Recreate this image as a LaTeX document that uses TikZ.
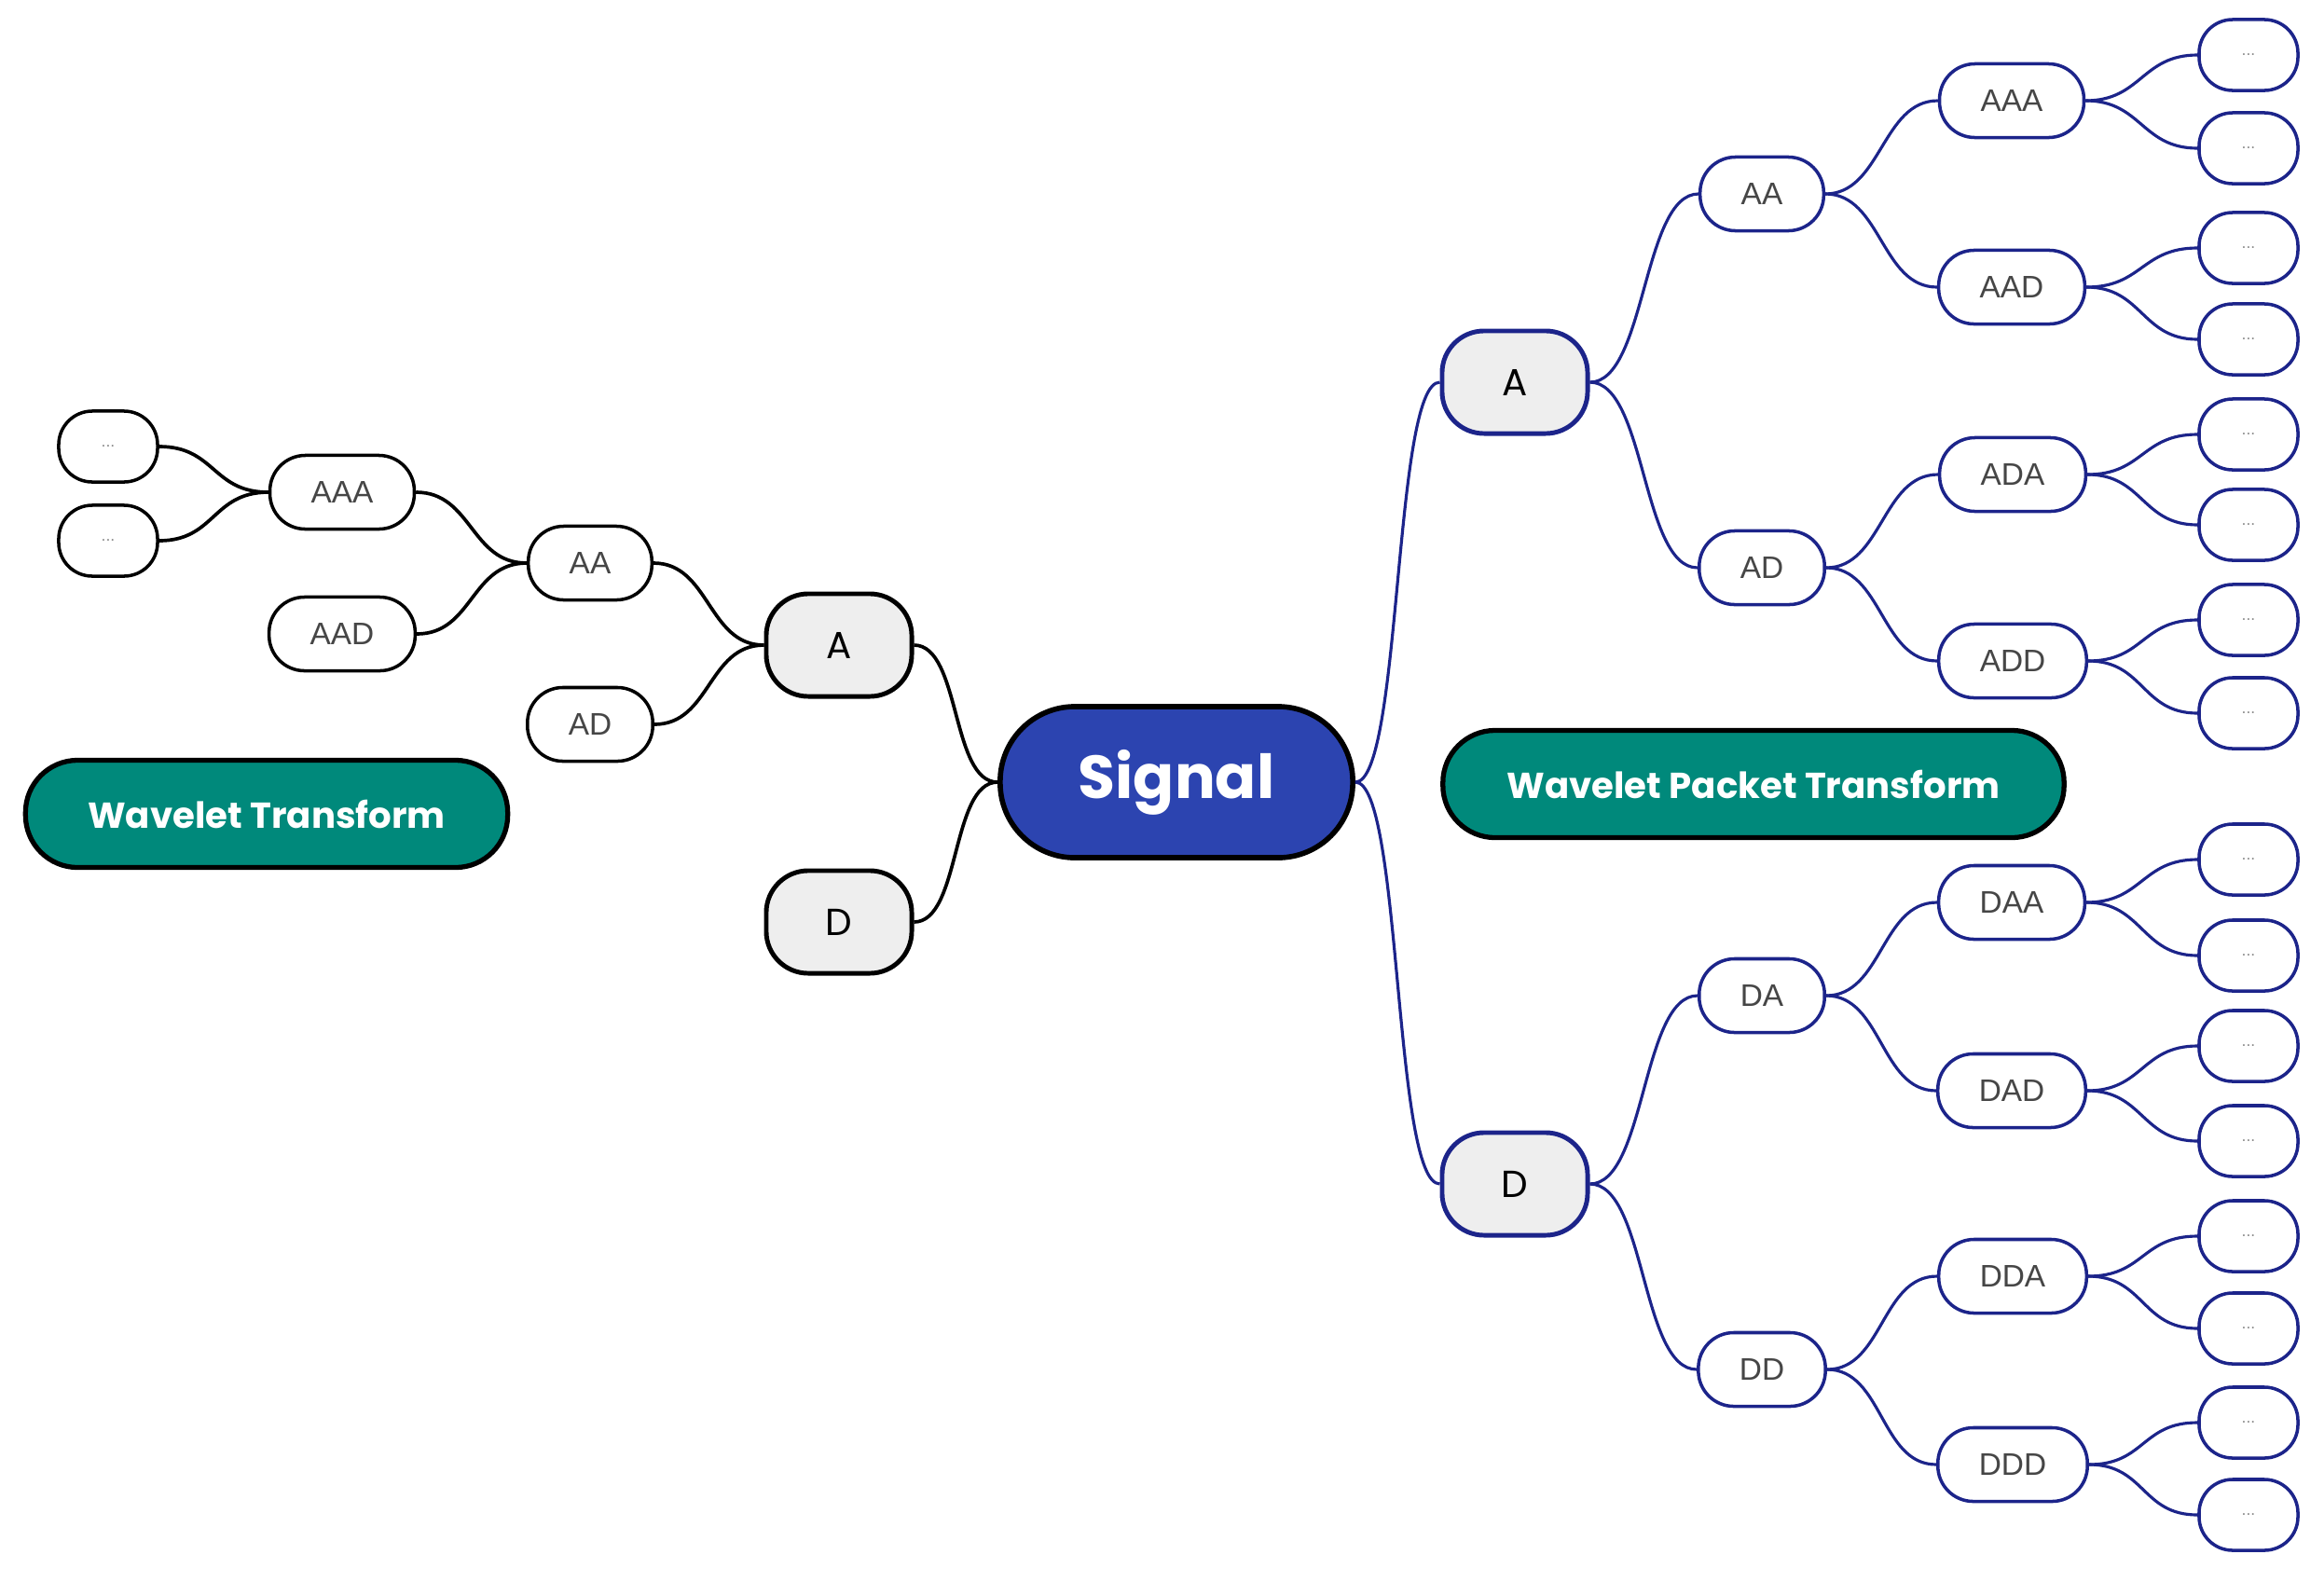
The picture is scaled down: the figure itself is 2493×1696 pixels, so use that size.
\documentclass[tikz,border=0pt]{standalone}
\usepackage{fontspec}
\setmainfont{Liberation Sans}
\newfontfamily\headfont{Poppins}
\usetikzlibrary{positioning}
\definecolor{navy}{RGB}{28,36,138}
\definecolor{signalblue}{RGB}{44,68,176}
\definecolor{wtgreen}{RGB}{0,137,123}
\definecolor{nodegray}{RGB}{238,238,238}
\definecolor{labelgray}{RGB}{70,70,70}
\definecolor{dotgray}{RGB}{140,140,140}

\tikzset{
  root/.style={draw=black, line width=1.6pt, fill=signalblue, text=white,
    rounded corners=0.8cm, minimum width=3.78cm, minimum height=1.62cm,
    font=\headfont\bfseries\fontsize{18.5}{20}\selectfont},
  title/.style={draw=black, line width=1.5pt, fill=wtgreen, text=white,
    rounded corners=0.56cm, minimum height=1.15cm,
    font=\headfont\bfseries\fontsize{11}{13}\selectfont},
  level1/.style={fill=nodegray, line width=1.4pt, rounded corners=0.45cm,
    minimum width=1.56cm, minimum height=1.1cm,
    font=\headfont\fontsize{11.5}{13}\selectfont},
  level2/.style={fill=white, line width=1pt, rounded corners=0.38cm,
    inner xsep=0.44cm, minimum height=0.79cm, text=labelgray,
    font=\fontsize{9.5}{11}\selectfont},
  leaf/.style={fill=white, line width=1pt, rounded corners=0.36cm,
    minimum width=1.06cm, minimum height=0.76cm, text=dotgray,
    font=\fontsize{5}{6}\selectfont}
}

\begin{document}
\begin{tikzpicture}[x=0.01cm, y=-0.01cm]
   \useasboundingbox (0,0) rectangle (2493,1696);
   % root and titles
   \node[root] (sig) at (1262,839) {Signal};
   \node[title, minimum width=5.17cm] (wt) at (286,873) {Wavelet Transform};
   \node[title, minimum width=6.66cm] (wpt) at (1881,841) {Wavelet Packet Transform};
   % wavelet transform (left)
   \begin{scope}[every node/.append style={draw=black}]
    \node[level1] (wa) at (900,692) {A};
    \node[level1] (wd) at (900,989) {D};
    \node[level2] (waa) at (633,604) {AA};
    \node[level2] (wad) at (633,777) {AD};
    \node[level2] (waaa) at (367,528) {AAA};
    \node[level2] (waad) at (367,680) {AAD};
    \node[leaf] (wx1) at (116,479) {...};
    \node[leaf] (wx2) at (116,580) {...};
   \end{scope}
   \begin{scope}[every edge/.style={draw=black, line width=1.05pt, out=180, in=0, distance=0.6cm}]
    \draw (sig.west) edge [distance=0.5cm] (wa.east);
    \draw (sig.west) edge [distance=0.5cm] (wd.east);
    \draw (wa.west) edge (waa.east);
    \draw (wa.west) edge (wad.east);
    \draw (waa.west) edge (waaa.east);
    \draw (waa.west) edge (waad.east);
    \draw (waaa.west) edge (wx1.east);
    \draw (waaa.west) edge (wx2.east);
   \end{scope}
   % wavelet packet transform (right)
   \begin{scope}[every node/.append style={draw=navy}]
    \node[level1] (pa) at (1625,410) {A};
    \node[level1] (pd) at (1625,1270) {D};
    \node[level2] (paa) at (1890,208) {AA};
    \node[level2] (pad) at (1890,609) {AD};
    \node[level2] (pda) at (1890,1068) {DA};
    \node[level2] (pdd) at (1890,1469) {DD};
    \node[level2] (paaa) at (2158,108) {AAA};
    \node[level2] (paad) at (2158,308) {AAD};
    \node[level2] (pada) at (2159,509) {ADA};
    \node[level2] (padd) at (2159,709) {ADD};
    \node[level2] (pdaa) at (2158,968) {DAA};
    \node[level2] (pdad) at (2158,1170) {DAD};
    \node[level2] (pdda) at (2159,1369) {DDA};
    \node[level2] (pddd) at (2159,1571) {DDD};
    \node[leaf] (px1) at (2412,59) {...};
    \node[leaf] (px2) at (2412,159) {...};
    \node[leaf] (px3) at (2412,266) {...};
    \node[leaf] (px4) at (2412,364) {...};
    \node[leaf] (px5) at (2412,466) {...};
    \node[leaf] (px6) at (2412,563) {...};
    \node[leaf] (px7) at (2412,665) {...};
    \node[leaf] (px8) at (2412,765) {...};
    \node[leaf] (px9) at (2412,922) {...};
    \node[leaf] (px10) at (2412,1025) {...};
    \node[leaf] (px11) at (2412,1122) {...};
    \node[leaf] (px12) at (2412,1224) {...};
    \node[leaf] (px13) at (2412,1326) {...};
    \node[leaf] (px14) at (2412,1425) {...};
    \node[leaf] (px15) at (2412,1526) {...};
    \node[leaf] (px16) at (2412,1625) {...};
   \end{scope}
   \begin{scope}[every edge/.style={draw=navy, line width=0.9pt, out=0, in=180, distance=0.6cm}]
    \draw (sig.east) edge [distance=0.5cm] (pa.west);
    \draw (sig.east) edge [distance=0.5cm] (pd.west);
    \draw (pa.east) edge (paa.west);
    \draw (pa.east) edge (pad.west);
    \draw (pd.east) edge (pda.west);
    \draw (pd.east) edge (pdd.west);
    \draw (paa.east) edge (paaa.west);
    \draw (paa.east) edge (paad.west);
    \draw (pad.east) edge (pada.west);
    \draw (pad.east) edge (padd.west);
    \draw (pda.east) edge (pdaa.west);
    \draw (pda.east) edge (pdad.west);
    \draw (pdd.east) edge (pdda.west);
    \draw (pdd.east) edge (pddd.west);
    \draw (paaa.east) edge (px1.west);
    \draw (paaa.east) edge (px2.west);
    \draw (paad.east) edge (px3.west);
    \draw (paad.east) edge (px4.west);
    \draw (pada.east) edge (px5.west);
    \draw (pada.east) edge (px6.west);
    \draw (padd.east) edge (px7.west);
    \draw (padd.east) edge (px8.west);
    \draw (pdaa.east) edge (px9.west);
    \draw (pdaa.east) edge (px10.west);
    \draw (pdad.east) edge (px11.west);
    \draw (pdad.east) edge (px12.west);
    \draw (pdda.east) edge (px13.west);
    \draw (pdda.east) edge (px14.west);
    \draw (pddd.east) edge (px15.west);
    \draw (pddd.east) edge (px16.west);
   \end{scope}
\end{tikzpicture}
\end{document}
